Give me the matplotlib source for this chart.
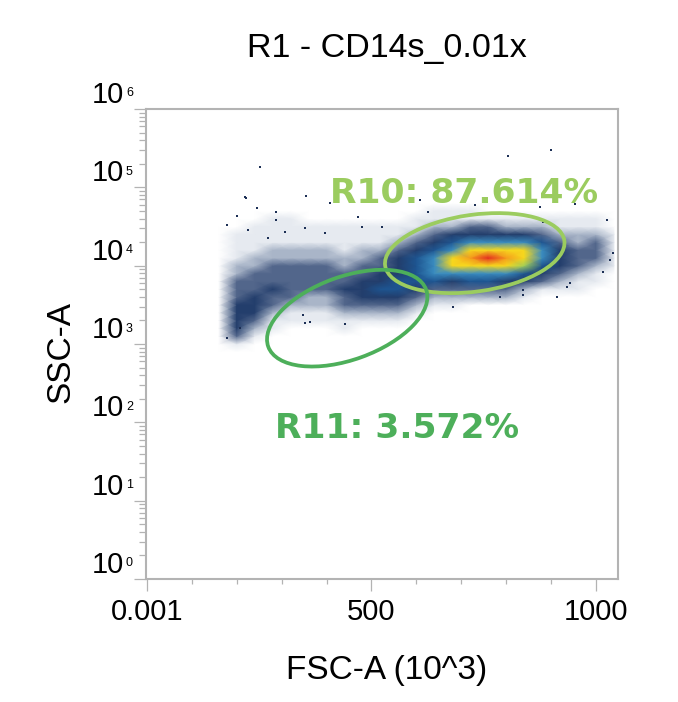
import numpy as np
import matplotlib
matplotlib.use("Agg")
import matplotlib.pyplot as plt
import matplotlib.transforms as mtransforms
from matplotlib.colors import LinearSegmentedColormap
from matplotlib.patches import Ellipse
from matplotlib.ticker import LogLocator, MultipleLocator, NullFormatter, FixedLocator

# ---------------- data ----------------
title = "R1 - CD14s_0.01x"
x_label = "FSC-A (10^3)"
y_label = "SSC-A"
x_tick_values = [0, 500, 1000]
x_tick_labels = ["0.001", "500", "1000"]
y_decades = [0, 1, 2, 3, 4, 5, 6]

# density grid (event density level 0..10), nodes in FSC (x10^3) and log10(SSC)
fsc_nodes = [160, 200, 240, 280, 320, 360, 400, 440, 480, 520, 560, 600,
             640, 680, 720, 760, 800, 840, 880, 920, 960, 1000, 1040]
log_ssc_nodes = [2.6, 2.7, 2.8, 2.9, 3.0, 3.1, 3.2, 3.3, 3.4, 3.5, 3.6, 3.7,
                 3.8, 3.9, 4.0, 4.1, 4.2, 4.3, 4.4, 4.5, 4.6, 4.7, 4.8, 4.9, 5.0]
# one list per FSC node, values from low to high SSC
density_by_fsc = [
    [0,0,0,0,0,0,0,0,0,0,0,0,0,0,0,0,0,0,0,0,0,0,0,0,0],   # 160
    [0,0,0,0,1,3,4,4,4,4,3,3,3,2,2,1,1,1,1,0,0,0,0,0,0],   # 200
    [0,0,0,0,0,1,2,3,4,4,4,3,3,3,2,2,1,1,1,1,0,0,0,0,0],   # 240
    [0,0,0,0,0,0,1,1,2,3,3,4,3,3,3,2,2,1,1,1,1,0,0,0,0],   # 280
    [0,0,0,0,0,0,0,1,1,2,3,3,3,3,3,2,2,1,1,1,1,0,0,0,0],   # 320
    [0,0,0,0,0,0,0,1,1,2,2,3,3,3,3,2,2,1,1,1,0,0,0,0,0],   # 360
    [0,0,0,0,0,0,0,1,1,2,2,3,3,3,3,2,2,1,1,1,0,0,0,0,0],   # 400
    [0,0,0,0,0,0,1,1,2,3,3,4,3,3,2,2,1,1,1,1,0,0,0,0,0],   # 440
    [0,0,0,0,0,0,0,1,2,3,4,4,4,3,3,2,2,1,1,1,0,0,0,0,0],   # 480
    [0,0,0,0,0,0,0,1,2,3,4,5,4,4,3,3,2,1,1,1,0,0,0,0,0],   # 520
    [0,0,0,0,0,0,0,1,2,3,4,5,5,4,4,4,3,2,1,1,0,0,0,0,0],   # 560
    [0,0,0,0,0,0,0,0,1,2,3,4,5,5,5,5,4,3,2,1,1,0,0,0,0],   # 600
    [0,0,0,0,0,0,0,0,0,1,2,3,5,6,6,6,5,4,3,2,1,1,0,0,0],   # 640
    [0,0,0,0,0,0,0,0,0,1,2,3,4,6,8,8,6,5,4,2,1,1,0,0,0],   # 680
    [0,0,0,0,0,0,0,0,0,0,2,3,5,6,8,9,8,6,4,3,1,1,0,0,0],   # 720
    [0,0,0,0,0,0,0,0,0,0,2,3,5,6,8,10,8,6,4,3,1,0,0,0,0],  # 760
    [0,0,0,0,0,0,0,0,0,0,2,3,4,6,8,9,8,6,4,2,1,0,0,0,0],   # 800
    [0,0,0,0,0,0,0,0,0,0,1,2,4,5,7,8,8,6,4,2,1,0,0,0,0],   # 840
    [0,0,0,0,0,0,0,0,0,0,0,1,3,4,5,6,6,5,3,2,1,0,0,0,0],   # 880
    [0,0,0,0,0,0,0,0,0,0,0,1,2,3,4,4,4,3,2,1,1,0,0,0,0],   # 920
    [0,0,0,0,0,0,0,0,0,0,0,1,1,2,3,3,3,2,2,1,1,0,0,0,0],   # 960
    [0,0,0,0,0,0,0,0,0,0,0,0,1,1,2,3,3,3,2,1,1,0,0,0,0],   # 1000
    [0,0,0,0,0,0,0,0,0,0,0,0,0,0,1,1,1,1,1,0,0,0,0,0,0],   # 1040
]

# isolated events
outlier_fsc = [252, 804, 900, 218, 354, 408, 201, 287, 470, 178, 875, 953, 1024,
               1016, 1038, 935, 682, 837, 363, 441, 348, 178, 207,
               221, 245, 287, 308, 225, 270, 352, 397, 479, 523, 352,
               731, 608, 626, 882, 942, 913, 837, 786, 1031]
outlier_ssc = [182000, 251000, 302000, 75900, 77600, 63100, 42700, 49000, 41700,
               33100, 56200, 61700, 38000, 8300, 14500, 5400, 2950, 4900, 1900,
               1820, 2340, 1200, 1580,
               72800, 54600, 38300, 26900, 28600, 22600, 30200, 26100, 31000,
               31000, 1860,
               59500, 69000, 48700, 36000, 6000, 4000, 4230, 4000, 11800]

# gates: center FSC, center log10 SSC, major (FSC units), minor (decades), angle
gate_names = ["R10", "R11"]
gate_percent = ["87.614%", "3.572%"]
gate_center_fsc = [730, 446]
gate_center_log_ssc = [4.16, 3.33]
gate_major = [403, 374]
gate_minor = [0.98, 1.06]
gate_angle = [8, 20]
gate_label_fsc = [408, 285]
gate_label_log_ssc = [4.80, 1.80]
gate_colors = ["#9bcc5f", "#4daf5a"]

# ---------------- figure ----------------
W, H = 678, 702
fig = plt.figure(figsize=(W / 100, H / 100), dpi=100)
ax = fig.add_axes([146 / W, 1 - 579 / H, 472 / W, 470 / H])

xmin, xmax = -2, 1049
ax.set_xlim(xmin, xmax)
ax.set_yscale("log")
ax.set_ylim(10 ** y_decades[0], 10 ** y_decades[-1])

density_levels = [0, 1, 2, 3, 4, 5, 6, 7, 8, 9, 10]
density_colors = ["#ffffff", "#e6eaf0", "#a9b5c8", "#50648a", "#233e6c",
                  "#1d5490", "#3a8cc0", "#9fd05a", "#f6d81e", "#f59b1c", "#e3261f"]
cmap = LinearSegmentedColormap.from_list(
    "flow", list(zip([v / 10 for v in density_levels], density_colors)))

X, Y = np.meshgrid(np.array(fsc_nodes, float), 10 ** np.array(log_ssc_nodes))
C = np.array(density_by_fsc, float).T
ax.pcolormesh(X, Y, C, shading="gouraud", cmap=cmap, vmin=0, vmax=10,
              rasterized=True, zorder=1)

ax.scatter(outlier_fsc, outlier_ssc, s=3.5, marker="s", color="#1c2f55",
           linewidths=0, zorder=2)

# gates
ndec = y_decades[-1] - y_decades[0]
for i in range(len(gate_names)):
    cx = (gate_center_fsc[i] - xmin) / (xmax - xmin)
    cy = (gate_center_log_ssc[i] - y_decades[0]) / ndec
    w = gate_major[i] / (xmax - xmin)
    h = gate_minor[i] / ndec
    ax.add_patch(Ellipse((cx, cy), w, h, angle=gate_angle[i], transform=ax.transAxes,
                         fill=False, edgecolor=gate_colors[i],
                         linewidth=2.7, zorder=3))
    ax.text(gate_label_fsc[i], 10 ** gate_label_log_ssc[i],
            f"{gate_names[i]}: {gate_percent[i]}", color=gate_colors[i],
            fontsize=24.8, fontweight="bold", family="DejaVu Sans",
            ha="left", va="baseline", zorder=4)

# axes styling
grey = "#b3b3b3"
for s in ax.spines.values():
    s.set_color(grey)
    s.set_linewidth(1.5)

ax.xaxis.set_major_locator(FixedLocator(x_tick_values))
ax.set_xticklabels(x_tick_labels)
ax.xaxis.set_minor_locator(MultipleLocator(100))
ax.yaxis.set_major_locator(FixedLocator([10 ** d for d in y_decades]))
ax.yaxis.set_minor_locator(LogLocator(base=10, subs=np.arange(2, 10), numticks=100))
ax.yaxis.set_major_formatter(NullFormatter())
ax.yaxis.set_minor_formatter(NullFormatter())

ax.tick_params(axis="x", which="major", length=8.6, width=0.9, color=grey,
               labelsize=21, pad=5)
ax.tick_params(axis="x", which="minor", length=3.6, width=0.9, color=grey)
ax.tick_params(axis="y", which="major", length=8.6, width=0.9, color=grey)
ax.tick_params(axis="y", which="minor", length=5, width=0.9, color=grey)
for lab in ax.get_xticklabels():
    lab.set_family("Liberation Sans")

# y tick labels: "10" with small exponent, sitting just above each decade tick
base = mtransforms.blended_transform_factory(ax.transAxes, ax.transData)
t10 = mtransforms.offset_copy(base, fig=fig, x=-22, y=6, units="dots")
texp = mtransforms.offset_copy(base, fig=fig, x=-20, y=15.5, units="dots")
for d in y_decades:
    ax.text(0, 10 ** d, "10", transform=t10, ha="right", va="baseline",
            fontsize=21, family="Liberation Sans", clip_on=False)
    ax.text(0, 10 ** d, str(d), transform=texp, ha="left", va="center",
            fontsize=9, family="Liberation Sans", clip_on=False)

fig.text(387 / W, 1 - 57 / H, title, ha="center", va="baseline",
         fontsize=24.5, family="Liberation Sans")
fig.text(387 / W, 1 - 679 / H, x_label, ha="center", va="baseline",
         fontsize=24, family="Liberation Sans")
fig.text(61 / W, 1 - 352 / H, y_label, ha="center", va="center", rotation=90,
         fontsize=24, family="Liberation Sans")

fig.savefig("out.png", dpi=100, facecolor="white")
